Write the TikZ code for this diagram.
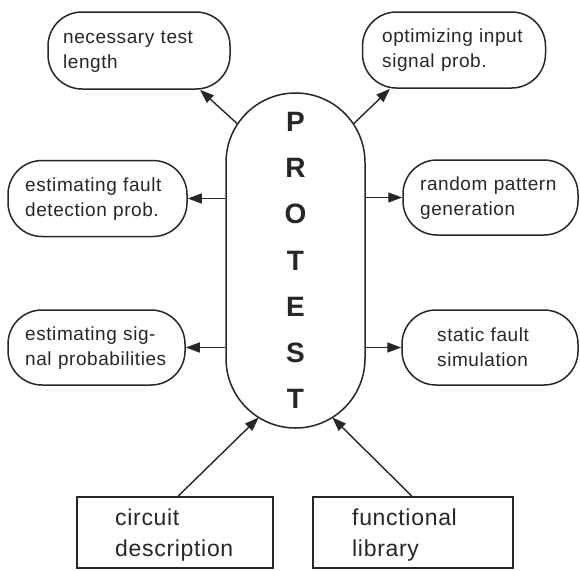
\documentclass[tikz,border=0pt]{standalone}
\usepackage{fontspec}
\setmainfont{Liberation Sans}
\usetikzlibrary{arrows.meta,calc}
\begin{document}
\begin{tikzpicture}[x=1pt,y=-1pt,
  line/.style={draw=black!85, line width=1.5pt},
  rbox/.style={line, rectangle, rounded corners=34pt, inner sep=0pt},
  sbox/.style={line, rectangle, inner sep=0pt},
  lbl/.style={anchor=base west, inner sep=0pt, align=left, text width=175pt, text=black!85,
    font=\fontsize{19}{25}\selectfont\addfontfeature{LetterSpace=3}},
  blbl/.style={anchor=base west, inner sep=0pt, align=left, text width=175pt, text=black!85,
    font=\fontsize{23}{31}\selectfont\addfontfeature{LetterSpace=3}},
  arr/.style={draw=black!85, line width=1.4pt, -{Triangle[length=14pt,width=10pt]}}
]
\useasboundingbox (0,0) rectangle (580,570);

% central pill
\node[line, rectangle, rounded corners=69.5pt, minimum width=139pt, minimum height=335pt,
  inner sep=0pt, text width=40pt, align=center, text=black!85,
  font=\fontsize{28}{46.2}\selectfont\bfseries] (pill) at (295.5,260.5)
  {P\\R\\O\\T\\E\\S\\T};
\coordinate (ptop) at (295.5,162.5);
\coordinate (pbot) at (295.5,358.5);

% rounded boxes
\node[rbox, minimum width=182pt, minimum height=77pt] (tl) at (139,50.5) {};
\node[rbox, minimum width=183pt, minimum height=76pt] (tr) at (454,50) {};
\node[rbox, minimum width=179pt, minimum height=76pt] (ml) at (97.5,198.5) {};
\node[rbox, minimum width=175pt, minimum height=75pt] (mr) at (490.5,197.5) {};
\node[rbox, minimum width=177pt, minimum height=75pt] (ll) at (96.5,347.5) {};
\node[rbox, minimum width=176pt, minimum height=75pt] (lr) at (490,347.5) {};

% square boxes
\node[sbox, minimum width=196pt, minimum height=71pt] (bl) at (175,532.5) {};
\node[sbox, minimum width=200pt, minimum height=71pt] (br) at (413,532.5) {};

% labels
\node[lbl] (tlt) at (63,43) {necessary test\\length};
\node[lbl] (trt) at (382,42.5) {optimizing input\\signal prob.};
\node[lbl] (mlt) at (25,191.5) {estimating fault\\detection prob.};
\node[lbl] (mrt) at (420,190) {random pattern\\generation};
\node[lbl] (llt) at (25,340) {estimating sig-\\nal probabilities};
\node[lbl] (lrt) at (437,341) {static fault\\simulation};
\node[blbl] (blt) at (115,525) {circuit\\description};
\node[blbl] (brt) at (352,525) {functional\\library};

% helper x positions
\coordinate (tlx) at (200,0);
\coordinate (trx) at (390,0);
\coordinate (blx) at (178,0);
\coordinate (brx) at (412,0);

% connectors
\draw[arr] ($(ptop)+(146.4:69.5pt)$) -- (tl.south -| tlx);
\draw[arr] ($(ptop)+(33.6:69.5pt)$) -- (tr.south -| trx);
\draw[arr] (pill.west |- ml.east) -- (ml.east);
\draw[arr] (pill.east |- mr.west) -- (mr.west);
\draw[arr] (pill.west |- ll.east) -- (ll.east);
\draw[arr] (pill.east |- lr.west) -- (lr.west);
\draw[arr] (bl.north -| blx) -- ($(pbot)+(-122:69.5pt)$);
\draw[arr] (br.north -| brx) -- ($(pbot)+(-58:69.5pt)$);
\end{tikzpicture}
\end{document}
